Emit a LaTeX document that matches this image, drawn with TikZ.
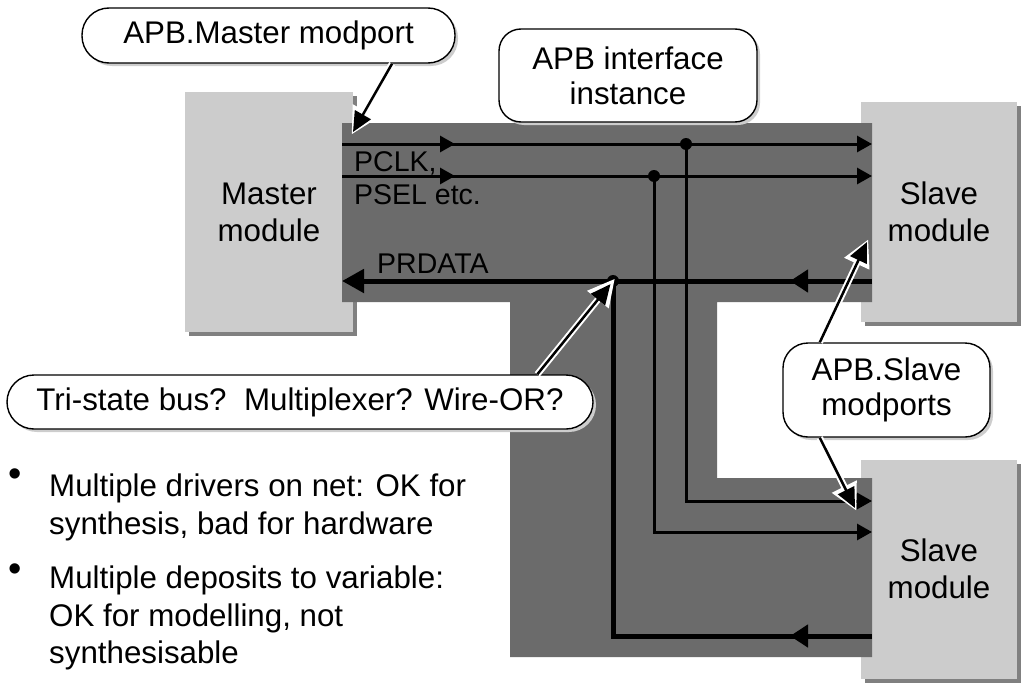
\documentclass[tikz,border=0pt]{standalone}
\usepackage{fontspec}
\setmainfont{Liberation Sans}
\usetikzlibrary{arrows.meta,calc,shadows,decorations.markings}

\definecolor{busgrey}{RGB}{107,107,107}
\definecolor{modgrey}{RGB}{204,204,204}
\definecolor{modshade}{RGB}{128,128,128}
\definecolor{callshade}{RGB}{205,205,205}

\begin{document}
\begin{tikzpicture}[x=1pt,y=-1pt,
		module/.style={fill=modgrey,inner sep=0pt,align=center,font=\fontsize{31.3}{37}\selectfont,general shadow={fill=modshade,shadow xshift=4pt,shadow yshift=-4pt}},
		callout/.style={draw,line width=1.4pt,fill=white,inner sep=0pt,align=center,font=\fontsize{31.3}{35}\selectfont,general shadow={fill=callshade,shadow xshift=3pt,shadow yshift=-3pt}},
		siglabel/.style={inner sep=0pt,align=left,font=\fontsize{28.5}{33}\selectfont},
		sig/.style={line width=3pt,-{Triangle[length=15pt,width=16pt]}},
		busline/.style={line width=5pt,-{Triangle[length=22pt,width=23pt]}},
		sigmid/.style={postaction={decorate,decoration={markings,mark=at position #1 with {\arrow{Triangle[length=15pt,width=16pt]}}}}},
		busmid/.style={postaction={decorate,decoration={markings,mark=at position #1 with {\arrow{Triangle[length=18pt,width=22pt]}}}}},
		pointer/.style={line width=2.5pt,-{Triangle[length=20pt,width=18pt]},preaction={draw=white,line width=6.5pt,shorten >=-3pt,-{Triangle[length=27pt,width=26pt]}}},
		bullettext/.style={inner sep=0pt,align=left,font=\fontsize{31.3}{37.5}\selectfont}]
	\useasboundingbox (0,0) rectangle (1032,685);

	% modules
	\node[module,minimum width=168pt,minimum height=240pt] (master) at (269,212) {Master\\module};
	\node[module,minimum width=156pt,minimum height=220pt] (slaveA) at (939,212) {Slave\\module};
	\node[module,minimum width=156pt,minimum height=219pt] (slaveB) at (939,569) {Slave\\module};

	% interface instance
	\fill[busgrey] (342,123) -- (872,123) -- (872,302) -- (717,302) -- (717,478) -- (872,478)
		-- (872,657) -- (510,657) -- (510,302) -- (342,302) -- cycle;

	\coordinate (mp1) at (342,144);
	\coordinate (mp2) at (342,176);
	\coordinate (mp3) at (342,281);
	\coordinate (sa1) at (872,144);
	\coordinate (sa2) at (872,176);
	\coordinate (sa3) at (872,281);
	\coordinate (sb1) at (872,501);
	\coordinate (sb2) at (872,532);
	\coordinate (sb3) at (872,636);
	\coordinate (j1) at (686,144);
	\coordinate (j2) at (654,176);
	\coordinate (j3) at (613,281);

	\draw[sig,sigmid=113pt] (mp1) -- (sa1);
	\draw[sig,sigmid=113pt] (mp2) -- (sa2);
	\draw[sig] (j1) |- (sb1);
	\draw[sig] (j2) |- (sb2);
	\draw[busline,busmid=82pt] (sa3) -- (mp3);
	\draw[line width=5pt,busmid=82pt] (sb3) -- (j3 |- sb3) -- (j3);
	\fill (j1) circle[radius=6pt];
	\fill (j2) circle[radius=6pt];
	\fill (j3) circle[radius=6pt];

	\node[siglabel,anchor=west] (ctrl) at (354,178) {PCLK,\\PSEL etc.};
	\node[siglabel,anchor=west] (rdata) at (377,264) {PRDATA};

	% callouts
	\coordinate (mtip) at (353,132);
	\coordinate (atip) at (867,242);
	\coordinate (btip) at (855,508);
	\node[callout,minimum width=373pt,minimum height=55pt,rounded corners=27pt] (mastercall) at (268.5,35.5) {APB.Master modport};
	\node[callout,minimum width=258pt,minimum height=93pt,rounded corners=22pt] (ifcall) at (628,75.5) {APB interface\\instance};
	\node[callout,minimum width=586pt,minimum height=54pt,rounded corners=27pt] (tricall) at (300,402) {Tri-state bus?\ \ Multiplexer? Wire-OR?};
	\node[callout,minimum width=207pt,minimum height=94pt,rounded corners=25pt] (slavecall) at (886.5,390) {APB.Slave\\modports};

	\draw[pointer] ($(mastercall.south west)!0.83!(mastercall.south east)$) -- (mtip);
	\draw[pointer,shorten >=4pt] ($(tricall.north west)!0.904!(tricall.north east)$) -- (j3);
	\draw[pointer] ($(slavecall.north west)!0.18!(slavecall.north east)$) -- (atip);
	\draw[pointer] ($(slavecall.south west)!0.18!(slavecall.south east)$) -- (btip);

	% notes
	\node[bullettext,font=\fontsize{38}{38}\selectfont] (dotA) at (15,478) {•};
	\node[bullettext,font=\fontsize{38}{38}\selectfont] (dotB) at (15,573) {•};
	\node[bullettext,anchor=north west] (noteA) at (49,474) {Multiple drivers on net: OK for\\synthesis, bad for hardware};
	\node[bullettext,anchor=north west] (noteB) at (49,566) {Multiple deposits to variable:\\OK for modelling, not\\synthesisable};
\end{tikzpicture}
\end{document}
